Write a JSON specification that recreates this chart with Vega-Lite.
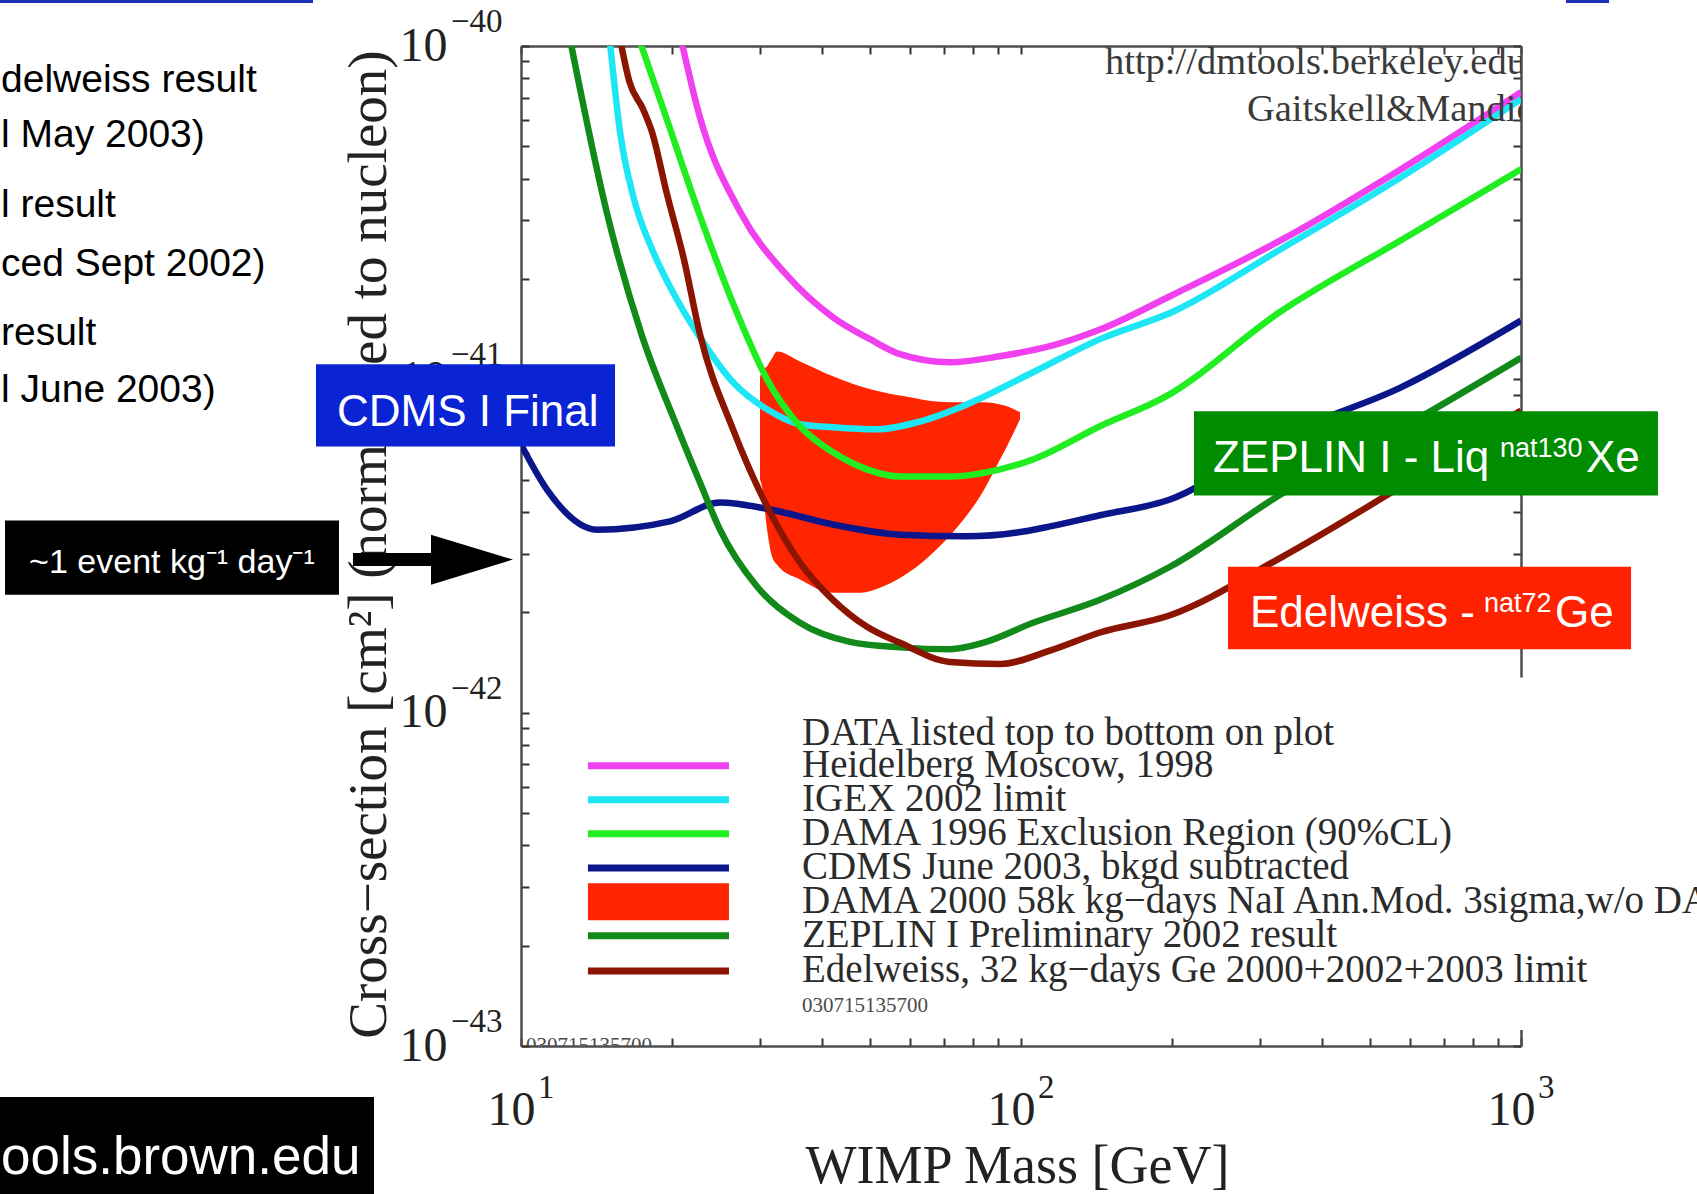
{
 "$schema": "https://vega.github.io/schema/vega-lite/v6.json",
 "width": 1000,
 "height": 1000,
 "autosize": {"type": "none"},
 "padding": {"left": 521, "top": 46, "right": 176, "bottom": 148},
 "background": "white",
 "config": {"view": {"stroke": null}},
 "datasets": {
  "curves": [
   {"series": "Heidelberg Moscow, 1998", "m": 20.89, "s": 1.05e-40},
   {"series": "Heidelberg Moscow, 1998", "m": 22.70, "s": 6.25e-41},
   {"series": "Heidelberg Moscow, 1998", "m": 27.54, "s": 3.15e-41},
   {"series": "Heidelberg Moscow, 1998", "m": 34.04, "s": 2.05e-41},
   {"series": "Heidelberg Moscow, 1998", "m": 42.07, "s": 1.535e-41},
   {"series": "Heidelberg Moscow, 1998", "m": 49.89, "s": 1.32e-41},
   {"series": "Heidelberg Moscow, 1998", "m": 57.28, "s": 1.19e-41},
   {"series": "Heidelberg Moscow, 1998", "m": 72.11, "s": 1.125e-41},
   {"series": "Heidelberg Moscow, 1998", "m": 90.78, "s": 1.173e-41},
   {"series": "Heidelberg Moscow, 1998", "m": 114.3, "s": 1.257e-41},
   {"series": "Heidelberg Moscow, 1998", "m": 143.9, "s": 1.41e-41},
   {"series": "Heidelberg Moscow, 1998", "m": 202.3, "s": 1.80e-41},
   {"series": "Heidelberg Moscow, 1998", "m": 331.1, "s": 2.615e-41},
   {"series": "Heidelberg Moscow, 1998", "m": 575.4, "s": 4.27e-41},
   {"series": "Heidelberg Moscow, 1998", "m": 1000, "s": 7.27e-41},
   {"series": "IGEX 2002 limit", "m": 15.04, "s": 1.05e-40},
   {"series": "IGEX 2002 limit", "m": 15.78, "s": 5.52e-41},
   {"series": "IGEX 2002 limit", "m": 16.83, "s": 3.47e-41},
   {"series": "IGEX 2002 limit", "m": 18.28, "s": 2.46e-41},
   {"series": "IGEX 2002 limit", "m": 20.23, "s": 1.80e-41},
   {"series": "IGEX 2002 limit", "m": 22.70, "s": 1.35e-41},
   {"series": "IGEX 2002 limit", "m": 26.55, "s": 9.80e-42},
   {"series": "IGEX 2002 limit", "m": 31.05, "s": 8.13e-42},
   {"series": "IGEX 2002 limit", "m": 36.14, "s": 7.33e-42},
   {"series": "IGEX 2002 limit", "m": 42.07, "s": 7.18e-42},
   {"series": "IGEX 2002 limit", "m": 51.52, "s": 7.08e-42},
   {"series": "IGEX 2002 limit", "m": 61.94, "s": 7.43e-42},
   {"series": "IGEX 2002 limit", "m": 77.98, "s": 8.41e-42},
   {"series": "IGEX 2002 limit", "m": 105.7, "s": 1.05e-41},
   {"series": "IGEX 2002 limit", "m": 143.9, "s": 1.32e-41},
   {"series": "IGEX 2002 limit", "m": 202.3, "s": 1.60e-41},
   {"series": "IGEX 2002 limit", "m": 331.1, "s": 2.46e-41},
   {"series": "IGEX 2002 limit", "m": 575.4, "s": 4.04e-41},
   {"series": "IGEX 2002 limit", "m": 1000, "s": 6.93e-41},
   {"series": "DAMA 1996 Exclusion Region (90%CL)", "m": 17.22, "s": 1.05e-40},
   {"series": "DAMA 1996 Exclusion Region (90%CL)", "m": 19.41, "s": 6.25e-41},
   {"series": "DAMA 1996 Exclusion Region (90%CL)", "m": 22.70, "s": 3.15e-41},
   {"series": "DAMA 1996 Exclusion Region (90%CL)", "m": 27.04, "s": 1.58e-41},
   {"series": "DAMA 1996 Exclusion Region (90%CL)", "m": 31.05, "s": 1.0e-41},
   {"series": "DAMA 1996 Exclusion Region (90%CL)", "m": 36.14, "s": 7.23e-42},
   {"series": "DAMA 1996 Exclusion Region (90%CL)", "m": 42.07, "s": 6.04e-42},
   {"series": "DAMA 1996 Exclusion Region (90%CL)", "m": 49.20, "s": 5.37e-42},
   {"series": "DAMA 1996 Exclusion Region (90%CL)", "m": 57.28, "s": 5.11e-42},
   {"series": "DAMA 1996 Exclusion Region (90%CL)", "m": 72.11, "s": 5.11e-42},
   {"series": "DAMA 1996 Exclusion Region (90%CL)", "m": 90.78, "s": 5.37e-42},
   {"series": "DAMA 1996 Exclusion Region (90%CL)", "m": 105.7, "s": 5.75e-42},
   {"series": "DAMA 1996 Exclusion Region (90%CL)", "m": 143.9, "s": 7.23e-42},
   {"series": "DAMA 1996 Exclusion Region (90%CL)", "m": 195.0, "s": 8.89e-42},
   {"series": "DAMA 1996 Exclusion Region (90%CL)", "m": 331.1, "s": 1.60e-41},
   {"series": "DAMA 1996 Exclusion Region (90%CL)", "m": 575.4, "s": 2.615e-41},
   {"series": "DAMA 1996 Exclusion Region (90%CL)", "m": 1000, "s": 4.27e-41},
   {"series": "CDMS June 2003, bkgd subtracted", "m": 10.0, "s": 6.38e-42},
   {"series": "CDMS June 2003, bkgd subtracted", "m": 11.27, "s": 4.67e-42},
   {"series": "CDMS June 2003, bkgd subtracted", "m": 14.19, "s": 3.54e-42},
   {"series": "CDMS June 2003, bkgd subtracted", "m": 19.86, "s": 3.75e-42},
   {"series": "CDMS June 2003, bkgd subtracted", "m": 25.00, "s": 4.27e-42},
   {"series": "CDMS June 2003, bkgd subtracted", "m": 31.48, "s": 4.07e-42},
   {"series": "CDMS June 2003, bkgd subtracted", "m": 42.07, "s": 3.67e-42},
   {"series": "CDMS June 2003, bkgd subtracted", "m": 57.28, "s": 3.42e-42},
   {"series": "CDMS June 2003, bkgd subtracted", "m": 77.98, "s": 3.38e-42},
   {"series": "CDMS June 2003, bkgd subtracted", "m": 98.17, "s": 3.47e-42},
   {"series": "CDMS June 2003, bkgd subtracted", "m": 114.3, "s": 3.62e-42},
   {"series": "CDMS June 2003, bkgd subtracted", "m": 143.9, "s": 3.91e-42},
   {"series": "CDMS June 2003, bkgd subtracted", "m": 198.6, "s": 4.36e-42},
   {"series": "CDMS June 2003, bkgd subtracted", "m": 331.1, "s": 6.75e-42},
   {"series": "CDMS June 2003, bkgd subtracted", "m": 575.4, "s": 9.46e-42},
   {"series": "CDMS June 2003, bkgd subtracted", "m": 1000, "s": 1.50e-41},
   {"series": "ZEPLIN I Preliminary 2002 result", "m": 12.53, "s": 1.05e-40},
   {"series": "ZEPLIN I Preliminary 2002 result", "m": 14.86, "s": 3.15e-41},
   {"series": "ZEPLIN I Preliminary 2002 result", "m": 17.46, "s": 1.35e-41},
   {"series": "ZEPLIN I Preliminary 2002 result", "m": 20.42, "s": 7.33e-42},
   {"series": "ZEPLIN I Preliminary 2002 result", "m": 22.80, "s": 4.90e-42},
   {"series": "ZEPLIN I Preliminary 2002 result", "m": 25.00, "s": 3.54e-42},
   {"series": "ZEPLIN I Preliminary 2002 result", "m": 29.65, "s": 2.39e-42},
   {"series": "ZEPLIN I Preliminary 2002 result", "m": 36.14, "s": 1.86e-42},
   {"series": "ZEPLIN I Preliminary 2002 result", "m": 45.50, "s": 1.63e-42},
   {"series": "ZEPLIN I Preliminary 2002 result", "m": 57.28, "s": 1.57e-42},
   {"series": "ZEPLIN I Preliminary 2002 result", "m": 72.11, "s": 1.55e-42},
   {"series": "ZEPLIN I Preliminary 2002 result", "m": 83.95, "s": 1.62e-42},
   {"series": "ZEPLIN I Preliminary 2002 result", "m": 105.7, "s": 1.86e-42},
   {"series": "ZEPLIN I Preliminary 2002 result", "m": 143.9, "s": 2.18e-42},
   {"series": "ZEPLIN I Preliminary 2002 result", "m": 198.6, "s": 2.74e-42},
   {"series": "ZEPLIN I Preliminary 2002 result", "m": 331.1, "s": 4.52e-42},
   {"series": "ZEPLIN I Preliminary 2002 result", "m": 575.4, "s": 7.13e-42},
   {"series": "ZEPLIN I Preliminary 2002 result", "m": 1000, "s": 1.16e-41},
   {"series": "Edelweiss, 32 kg−days Ge 2000+2002+2003 limit", "m": 15.78, "s": 1.05e-40},
   {"series": "Edelweiss, 32 kg−days Ge 2000+2002+2003 limit", "m": 16.48, "s": 7.80e-41},
   {"series": "Edelweiss, 32 kg−days Ge 2000+2002+2003 limit", "m": 17.54, "s": 6.47e-41},
   {"series": "Edelweiss, 32 kg−days Ge 2000+2002+2003 limit", "m": 18.28, "s": 5.52e-41},
   {"series": "Edelweiss, 32 kg−days Ge 2000+2002+2003 limit", "m": 19.59, "s": 3.59e-41},
   {"series": "Edelweiss, 32 kg−days Ge 2000+2002+2003 limit", "m": 21.18, "s": 2.29e-41},
   {"series": "Edelweiss, 32 kg−days Ge 2000+2002+2003 limit", "m": 22.80, "s": 1.365e-41},
   {"series": "Edelweiss, 32 kg−days Ge 2000+2002+2003 limit", "m": 26.55, "s": 7.08e-42},
   {"series": "Edelweiss, 32 kg−days Ge 2000+2002+2003 limit", "m": 31.05, "s": 4.16e-42},
   {"series": "Edelweiss, 32 kg−days Ge 2000+2002+2003 limit", "m": 36.14, "s": 2.82e-42},
   {"series": "Edelweiss, 32 kg−days Ge 2000+2002+2003 limit", "m": 42.07, "s": 2.18e-42},
   {"series": "Edelweiss, 32 kg−days Ge 2000+2002+2003 limit", "m": 49.20, "s": 1.81e-42},
   {"series": "Edelweiss, 32 kg−days Ge 2000+2002+2003 limit", "m": 57.28, "s": 1.62e-42},
   {"series": "Edelweiss, 32 kg−days Ge 2000+2002+2003 limit", "m": 72.11, "s": 1.42e-42},
   {"series": "Edelweiss, 32 kg−days Ge 2000+2002+2003 limit", "m": 90.78, "s": 1.40e-42},
   {"series": "Edelweiss, 32 kg−days Ge 2000+2002+2003 limit", "m": 114.3, "s": 1.535e-42},
   {"series": "Edelweiss, 32 kg−days Ge 2000+2002+2003 limit", "m": 143.9, "s": 1.74e-42},
   {"series": "Edelweiss, 32 kg−days Ge 2000+2002+2003 limit", "m": 198.6, "s": 1.96e-42},
   {"series": "Edelweiss, 32 kg−days Ge 2000+2002+2003 limit", "m": 331.1, "s": 2.92e-42},
   {"series": "Edelweiss, 32 kg−days Ge 2000+2002+2003 limit", "m": 575.4, "s": 4.77e-42},
   {"series": "Edelweiss, 32 kg−days Ge 2000+2002+2003 limit", "m": 1000, "s": 8.07e-42}
  ],
  "dama2000": [
   {"m": 30.06, "hi": 1.014e-41, "lo": 5.01e-42},
   {"m": 30.34, "hi": 1.057e-41, "lo": 4.77e-42},
   {"m": 31.05, "hi": 1.094e-41, "lo": 3.55e-42},
   {"m": 31.77, "hi": 1.156e-41, "lo": 2.94e-42},
   {"m": 32.51, "hi": 1.213e-41, "lo": 2.78e-42},
   {"m": 36.14, "hi": 1.132e-41, "lo": 2.51e-42},
   {"m": 42.07, "hi": 1.021e-41, "lo": 2.29e-42},
   {"m": 47.64, "hi": 9.53e-42, "lo": 2.29e-42},
   {"m": 52.97, "hi": 9.14e-42, "lo": 2.39e-42},
   {"m": 59.98, "hi": 8.83e-42, "lo": 2.65e-42},
   {"m": 66.68, "hi": 8.59e-42, "lo": 3.02e-42},
   {"m": 73.11, "hi": 8.53e-42, "lo": 3.48e-42},
   {"m": 83.95, "hi": 8.53e-42, "lo": 4.61e-42},
   {"m": 90.78, "hi": 8.41e-42, "lo": 5.75e-42},
   {"m": 93.76, "hi": 8.30e-42, "lo": 6.30e-42},
   {"m": 99.54, "hi": 7.96e-42, "lo": 7.59e-42}
  ],
  "legendRows": [
   {"series": "Heidelberg Moscow, 1998", "s": 6.93e-43},
   {"series": "IGEX 2002 limit", "s": 5.48e-43},
   {"series": "DAMA 1996 Exclusion Region (90%CL)", "s": 4.33e-43},
   {"series": "CDMS June 2003, bkgd subtracted", "s": 3.42e-43},
   {"series": "DAMA 2000 58k kg−days NaI Ann.Mod. 3sigma,w/o DAMA 1996 limit", "s": 2.71e-43},
   {"series": "ZEPLIN I Preliminary 2002 result", "s": 2.14e-43},
   {"series": "Edelweiss, 32 kg−days Ge 2000+2002+2003 limit", "s": 1.68e-43}
  ]
 },
 "layer": [
  {
   "data": {"values": [{}]},
   "mark": {"type": "rect", "color": "white"},
   "encoding": {
    "x": {"datum": 11.97, "type": "quantitative", "scale": {"type": "log", "domain": [10, 1000], "nice": false}, "axis": null},
    "x2": {"datum": 2249},
    "y": {"datum": 1.274e-42, "type": "quantitative", "scale": {"type": "log", "domain": [1e-43, 1e-40], "nice": false}, "axis": null},
    "y2": {"datum": 1.117e-43}
   }
  },
  {
   "data": {"name": "dama2000"},
   "mark": {"type": "area", "clip": true, "interpolate": "monotone", "color": "#ff2500"},
   "encoding": {
    "x": {"field": "m", "type": "quantitative", "scale": {"type": "log", "domain": [10, 1000], "nice": false},
     "axis": {"orient": "bottom", "values": [10,20,30,40,50,60,70,80,90,100,200,300,400,500,600,700,800,900,1000],
      "labelExpr": "abs(log(datum.value)/LN10 - round(log(datum.value)/LN10)) < 0.000001 ? '10' : ''",
      "labelFont": "Liberation Serif", "labelFontSize": 48, "labelColor": "#222222", "labelAlign": "center", "labelBaseline": "alphabetic",
      "labelOffset": -10, "labelPadding": 86, "labelFlush": false, "labelOverlap": false,
      "tickSize": -8, "tickColor": "#333333", "tickWidth": 2, "domainColor": "#4d4d4d", "domainWidth": 2.5, "grid": false,
      "title": "WIMP Mass [GeV]", "titleFont": "Liberation Serif", "titleFontSize": 54, "titleFontWeight": "normal", "titleColor": "#222222",
      "titleX": 496, "titleY": 136, "titleAlign": "center", "titleBaseline": "alphabetic"}},
    "y": {"field": "hi", "type": "quantitative", "scale": {"type": "log", "domain": [1e-43, 1e-40], "nice": false},
     "axis": {"orient": "left", "values": [1e-43,2e-43,3e-43,4e-43,5e-43,6e-43,7e-43,8e-43,9e-43,1e-42,2e-42,3e-42,4e-42,5e-42,6e-42,7e-42,8e-42,9e-42,1e-41,2e-41,3e-41,4e-41,5e-41,6e-41,7e-41,8e-41,9e-41,1e-40],
      "labelExpr": "abs(log(datum.value)/LN10 - round(log(datum.value)/LN10)) < 0.000001 ? '10' : ''",
      "labelFont": "Liberation Serif", "labelFontSize": 48, "labelColor": "#222222", "labelAlign": "right", "labelBaseline": "middle",
      "labelPadding": 82, "labelFlush": false, "labelOverlap": false,
      "tickSize": -8, "tickColor": "#333333", "tickWidth": 2, "domainColor": "#4d4d4d", "domainWidth": 2.5, "grid": false,
      "title": "Cross−section [cm²] (normalized to nucleon)", "titleFont": "Liberation Serif", "titleFontSize": 55, "titleFontWeight": "normal", "titleColor": "#222222",
      "titleX": -136, "titleY": 498, "titleAngle": -90, "titleAlign": "center", "titleBaseline": "alphabetic"}},
    "y2": {"field": "lo"}
   }
  },
  {
   "data": {"name": "curves"},
   "mark": {"type": "line", "clip": true, "strokeWidth": 6.5, "interpolate": "monotone"},
   "encoding": {
    "x": {"field": "m", "type": "quantitative", "scale": {"type": "log", "domain": [10, 1000], "nice": false},
     "axis": {"orient": "top", "values": [10,20,30,40,50,60,70,80,90,100,200,300,400,500,600,700,800,900,1000], "labels": false, "title": null,
      "tickSize": -8, "tickColor": "#333333", "tickWidth": 2, "domainColor": "#4d4d4d", "domainWidth": 2.5, "grid": false}},
    "y": {"field": "s", "type": "quantitative", "scale": {"type": "log", "domain": [1e-43, 1e-40], "nice": false},
     "axis": {"orient": "right", "values": [1e-43,2e-43,3e-43,4e-43,5e-43,6e-43,7e-43,8e-43,9e-43,1e-42,2e-42,3e-42,4e-42,5e-42,6e-42,7e-42,8e-42,9e-42,1e-41,2e-41,3e-41,4e-41,5e-41,6e-41,7e-41,8e-41,9e-41,1e-40], "labels": false, "title": null,
      "tickSize": -8, "tickColor": "#333333", "tickWidth": 2, "domainColor": "#4d4d4d", "domainWidth": 2.5, "grid": false}},
    "color": {"field": "series", "type": "nominal",
     "scale": {"domain": ["Heidelberg Moscow, 1998", "IGEX 2002 limit", "DAMA 1996 Exclusion Region (90%CL)", "CDMS June 2003, bkgd subtracted", "DAMA 2000 58k kg−days NaI Ann.Mod. 3sigma,w/o DAMA 1996 limit", "ZEPLIN I Preliminary 2002 result", "Edelweiss, 32 kg−days Ge 2000+2002+2003 limit"],
      "range": ["#f040f0", "#1ee6f5", "#20ee20", "#0b168a", "#ff2500", "#118a1a", "#8b1500"]},
     "legend": null}
   }
  },
  {
   "data": {"name": "legendRows"},
   "mark": {"type": "rule"},
   "encoding": {
    "x": {"datum": 13.61, "type": "quantitative", "scale": {"type": "log", "domain": [10, 1000], "nice": false}, "axis": null},
    "x2": {"datum": 26.06},
    "y": {"field": "s", "type": "quantitative", "scale": {"type": "log", "domain": [1e-43, 1e-40], "nice": false}, "axis": null},
    "color": {"field": "series", "type": "nominal", "legend": null},
    "strokeWidth": {"condition": {"test": "indexof(datum.series, 'DAMA 2000') === 0", "value": 37}, "value": 7}
   }
  },
  {
   "data": {"name": "legendRows"},
   "mark": {"type": "text", "font": "Liberation Serif", "fontSize": 39, "align": "left", "baseline": "alphabetic", "dy": 11, "color": "#2b2b2b"},
   "encoding": {
    "x": {"datum": 36.48, "type": "quantitative", "scale": {"type": "log", "domain": [10, 1000], "nice": false}, "axis": null},
    "y": {"field": "s", "type": "quantitative", "scale": {"type": "log", "domain": [1e-43, 1e-40], "nice": false}, "axis": null},
    "text": {"field": "series"}
   }
  },
  {
   "data": {"values": [
    {"t": "http://dmtools.berkeley.edu", "m": 147.2, "s": 8.24e-41},
    {"t": "Gaitskell&Mandic", "m": 283.1, "s": 5.95e-41}
   ]},
   "mark": {"type": "text", "clip": true, "font": "Liberation Serif", "fontSize": 38.5, "align": "left", "baseline": "alphabetic", "color": "#3a3a3a"},
   "encoding": {
    "x": {"field": "m", "type": "quantitative", "scale": {"type": "log", "domain": [10, 1000], "nice": false}, "axis": null},
    "y": {"field": "s", "type": "quantitative", "scale": {"type": "log", "domain": [1e-43, 1e-40], "nice": false}, "axis": null},
    "text": {"field": "t"}
   }
  },
  {
   "data": {"values": [
    {"t": "DATA listed top to bottom on plot", "m": 36.48, "s": 8.02e-43}
   ]},
   "mark": {"type": "text", "font": "Liberation Serif", "fontSize": 39, "align": "left", "baseline": "alphabetic", "color": "#2b2b2b"},
   "encoding": {
    "x": {"field": "m", "type": "quantitative", "scale": {"type": "log", "domain": [10, 1000], "nice": false}, "axis": null},
    "y": {"field": "s", "type": "quantitative", "scale": {"type": "log", "domain": [1e-43, 1e-40], "nice": false}, "axis": null},
    "text": {"field": "t"}
   }
  },
  {
   "data": {"values": [
    {"t": "030715135700", "m": 36.48, "s": 1.265e-43},
    {"t": "030715135700.", "m": 10.23, "s": 9.6e-44}
   ]},
   "mark": {"type": "text", "clip": true, "font": "Liberation Serif", "fontSize": 21, "align": "left", "baseline": "alphabetic", "color": "#4a4a4a"},
   "encoding": {
    "x": {"field": "m", "type": "quantitative", "scale": {"type": "log", "domain": [10, 1000], "nice": false}, "axis": null},
    "y": {"field": "s", "type": "quantitative", "scale": {"type": "log", "domain": [1e-43, 1e-40], "nice": false}, "axis": null},
    "text": {"field": "t"}
   }
  },
  {
   "data": {"values": [{"m": 10, "e": "1"}, {"m": 100, "e": "2"}, {"m": 1000, "e": "3"}]},
   "mark": {"type": "text", "font": "Liberation Serif", "fontSize": 33, "align": "left", "baseline": "alphabetic", "dx": 17, "color": "#222222"},
   "encoding": {
    "x": {"field": "m", "type": "quantitative", "scale": {"type": "log", "domain": [10, 1000], "nice": false}, "axis": null},
    "y": {"datum": 6.98e-44, "type": "quantitative", "scale": {"type": "log", "domain": [1e-43, 1e-40], "nice": false}, "axis": null},
    "text": {"field": "e"}
   }
  },
  {
   "data": {"values": [{"s": 1e-40, "e": "−40"}, {"s": 1e-41, "e": "−41"}, {"s": 1e-42, "e": "−42"}, {"s": 1e-43, "e": "−43"}]},
   "mark": {"type": "text", "font": "Liberation Serif", "fontSize": 33, "align": "left", "baseline": "alphabetic", "dy": -14, "color": "#222222"},
   "encoding": {
    "x": {"datum": 7.244, "type": "quantitative", "scale": {"type": "log", "domain": [10, 1000], "nice": false}, "axis": null},
    "y": {"field": "s", "type": "quantitative", "scale": {"type": "log", "domain": [1e-43, 1e-40], "nice": false}, "axis": null},
    "text": {"field": "e"}
   }
  },
  {
   "data": {"values": [
    {"t": "delweiss result", "m": 0.912, "s": 7.27e-41},
    {"t": "l May 2003)", "m": 0.912, "s": 4.97e-41},
    {"t": "l result", "m": 0.912, "s": 3.07e-41},
    {"t": "ced Sept 2002)", "m": 0.912, "s": 2.04e-41},
    {"t": "result", "m": 0.912, "s": 1.27e-41},
    {"t": "l June 2003)", "m": 0.912, "s": 8.53e-42}
   ]},
   "mark": {"type": "text", "font": "Liberation Sans", "fontSize": 39, "align": "left", "baseline": "alphabetic", "color": "#000000"},
   "encoding": {
    "x": {"field": "m", "type": "quantitative", "scale": {"type": "log", "domain": [10, 1000], "nice": false}, "axis": null},
    "y": {"field": "s", "type": "quantitative", "scale": {"type": "log", "domain": [1e-43, 1e-40], "nice": false}, "axis": null},
    "text": {"field": "t"}
   }
  },
  {
   "data": {"values": [{"m1": 0.85, "m2": 3.837, "s1": 1.43e-40, "s2": 1.346e-40}, {"m1": 1230, "m2": 1500, "s1": 1.43e-40, "s2": 1.346e-40}]},
   "mark": {"type": "rect", "color": "#1b2fb5"},
   "encoding": {
    "x": {"field": "m1", "type": "quantitative", "scale": {"type": "log", "domain": [10, 1000], "nice": false}, "axis": null},
    "x2": {"field": "m2"},
    "y": {"field": "s1", "type": "quantitative", "scale": {"type": "log", "domain": [1e-43, 1e-40], "nice": false}, "axis": null},
    "y2": {"field": "s2"}
   }
  },
  {
   "data": {"values": [{"m1": 3.890, "m2": 15.42, "s1": 1.11e-41, "s2": 6.29e-42}]},
   "mark": {"type": "rect", "color": "#0a24d4"},
   "encoding": {
    "x": {"field": "m1", "type": "quantitative", "scale": {"type": "log", "domain": [10, 1000], "nice": false}, "axis": null},
    "x2": {"field": "m2"},
    "y": {"field": "s1", "type": "quantitative", "scale": {"type": "log", "domain": [1e-43, 1e-40], "nice": false}, "axis": null},
    "y2": {"field": "s2"}
   }
  },
  {
   "data": {"values": [{"m1": 0.929, "m2": 4.325, "s1": 3.77e-42, "s2": 2.26e-42}, {"m1": 0.85, "m2": 5.082, "s1": 7.03e-44, "s2": 3.0e-44}]},
   "mark": {"type": "rect", "color": "#000000"},
   "encoding": {
    "x": {"field": "m1", "type": "quantitative", "scale": {"type": "log", "domain": [10, 1000], "nice": false}, "axis": null},
    "x2": {"field": "m2"},
    "y": {"field": "s1", "type": "quantitative", "scale": {"type": "log", "domain": [1e-43, 1e-40], "nice": false}, "axis": null},
    "y2": {"field": "s2"}
   }
  },
  {
   "data": {"values": [{"m1": 221.8, "m2": 1879, "s1": 8.02e-42, "s2": 4.48e-42}]},
   "mark": {"type": "rect", "color": "#008c00"},
   "encoding": {
    "x": {"field": "m1", "type": "quantitative", "scale": {"type": "log", "domain": [10, 1000], "nice": false}, "axis": null},
    "x2": {"field": "m2"},
    "y": {"field": "s1", "type": "quantitative", "scale": {"type": "log", "domain": [1e-43, 1e-40], "nice": false}, "axis": null},
    "y2": {"field": "s2"}
   }
  },
  {
   "data": {"values": [{"m1": 259.4, "m2": 1660, "s1": 2.74e-42, "s2": 1.55e-42}]},
   "mark": {"type": "rect", "color": "#ff2200"},
   "encoding": {
    "x": {"field": "m1", "type": "quantitative", "scale": {"type": "log", "domain": [10, 1000], "nice": false}, "axis": null},
    "x2": {"field": "m2"},
    "y": {"field": "s1", "type": "quantitative", "scale": {"type": "log", "domain": [1e-43, 1e-40], "nice": false}, "axis": null},
    "y2": {"field": "s2"}
   }
  },
  {
   "data": {"values": [
    {"t": "CDMS I Final", "m": 4.285, "s": 7.23e-42},
    {"t": "ZEPLIN I - Liq", "m": 242.1, "s": 5.26e-42},
    {"t": "Xe", "m": 1349, "s": 5.26e-42},
    {"t": "Edelweiss -", "m": 287.1, "s": 1.81e-42},
    {"t": "Ge", "m": 1169.5, "s": 1.81e-42}
   ]},
   "mark": {"type": "text", "font": "Liberation Sans", "fontSize": 44, "align": "left", "baseline": "alphabetic", "color": "#ffffff"},
   "encoding": {
    "x": {"field": "m", "type": "quantitative", "scale": {"type": "log", "domain": [10, 1000], "nice": false}, "axis": null},
    "y": {"field": "s", "type": "quantitative", "scale": {"type": "log", "domain": [1e-43, 1e-40], "nice": false}, "axis": null},
    "text": {"field": "t"}
   }
  },
  {
   "data": {"values": [
    {"t": "nat130", "m": 907.8, "s": 5.83e-42},
    {"t": "nat72", "m": 843.3, "s": 2.01e-42}
   ]},
   "mark": {"type": "text", "font": "Liberation Sans", "fontSize": 27, "align": "left", "baseline": "alphabetic", "color": "#ffffff"},
   "encoding": {
    "x": {"field": "m", "type": "quantitative", "scale": {"type": "log", "domain": [10, 1000], "nice": false}, "axis": null},
    "y": {"field": "s", "type": "quantitative", "scale": {"type": "log", "domain": [1e-43, 1e-40], "nice": false}, "axis": null},
    "text": {"field": "t"}
   }
  },
  {
   "data": {"values": [{"t": "~1 event kg⁻¹ day⁻¹", "m": 1.038, "s": 2.62e-42}]},
   "mark": {"type": "text", "font": "Liberation Sans", "fontSize": 34, "align": "left", "baseline": "alphabetic", "color": "#ffffff"},
   "encoding": {
    "x": {"field": "m", "type": "quantitative", "scale": {"type": "log", "domain": [10, 1000], "nice": false}, "axis": null},
    "y": {"field": "s", "type": "quantitative", "scale": {"type": "log", "domain": [1e-43, 1e-40], "nice": false}, "axis": null},
    "text": {"field": "t"}
   }
  },
  {
   "data": {"values": [{"t": "ools.brown.edu", "m": 0.912, "s": 4.13e-44}]},
   "mark": {"type": "text", "font": "Liberation Sans", "fontSize": 53, "align": "left", "baseline": "alphabetic", "color": "#ffffff"},
   "encoding": {
    "x": {"field": "m", "type": "quantitative", "scale": {"type": "log", "domain": [10, 1000], "nice": false}, "axis": null},
    "y": {"field": "s", "type": "quantitative", "scale": {"type": "log", "domain": [1e-43, 1e-40], "nice": false}, "axis": null},
    "text": {"field": "t"}
   }
  },
  {
   "data": {"values": [{}]},
   "mark": {"type": "rule", "color": "#000000", "strokeWidth": 13},
   "encoding": {
    "x": {"datum": 4.613, "type": "quantitative", "scale": {"type": "log", "domain": [10, 1000], "nice": false}, "axis": null},
    "x2": {"datum": 6.73},
    "y": {"datum": 2.88e-42, "type": "quantitative", "scale": {"type": "log", "domain": [1e-43, 1e-40], "nice": false}, "axis": null}
   }
  },
  {
   "data": {"values": [{"m": 6.607, "hi": 3.42e-42, "lo": 2.42e-42}, {"m": 9.638, "hi": 2.88e-42, "lo": 2.88e-42}]},
   "mark": {"type": "area", "color": "#000000"},
   "encoding": {
    "x": {"field": "m", "type": "quantitative", "scale": {"type": "log", "domain": [10, 1000], "nice": false}, "axis": null},
    "y": {"field": "hi", "type": "quantitative", "scale": {"type": "log", "domain": [1e-43, 1e-40], "nice": false}, "axis": null},
    "y2": {"field": "lo"}
   }
  }
 ],
 "resolve": {"axis": {"x": "independent", "y": "independent"}}
}
